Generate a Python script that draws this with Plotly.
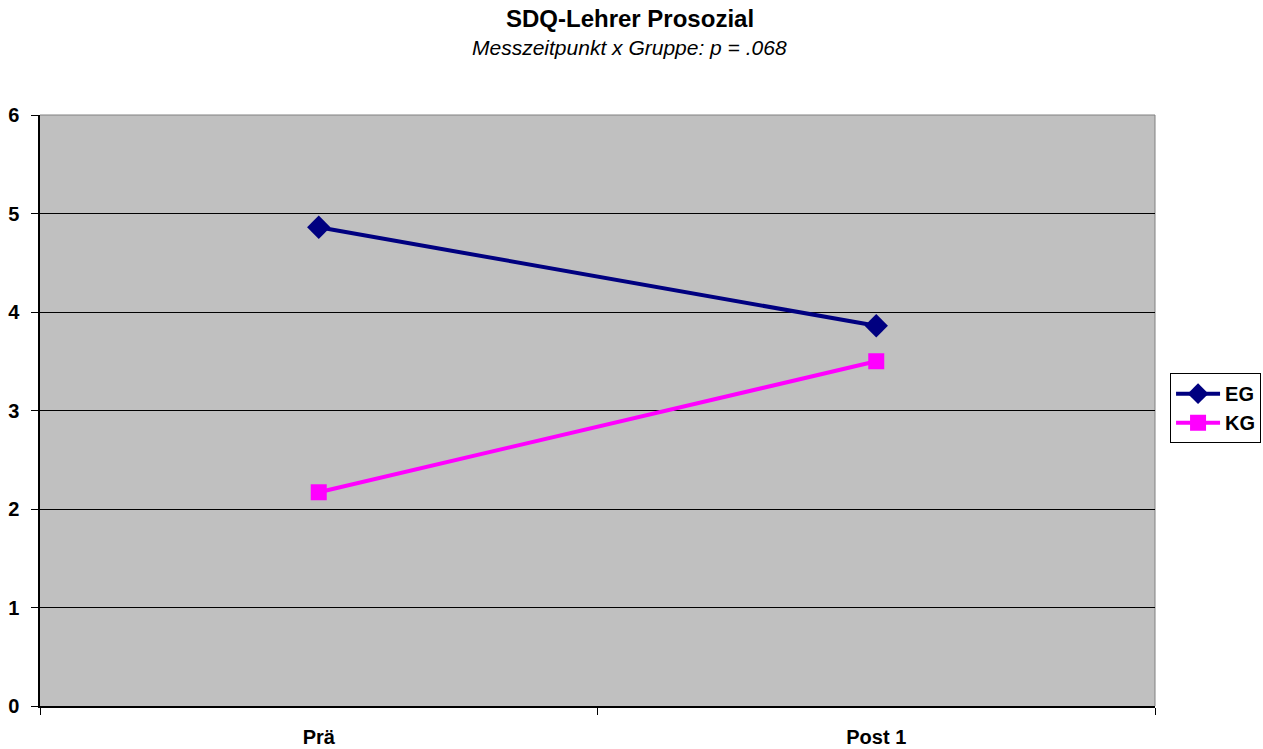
import plotly.graph_objects as go

# Messzeitpunkte und Gruppenmittelwerte
zeitpunkte = ["Prä", "Post 1"]
eg_werte = [4.86, 3.86]
kg_werte = [2.17, 3.50]

y_ticks = [0, 1, 2, 3, 4, 5, 6]

titel = "SDQ-Lehrer Prosozial"
untertitel = "Messzeitpunkt x Gruppe: p = .068"

font_family = "Liberation Sans, Arial, sans-serif"

fig = go.Figure()

fig.add_trace(go.Scatter(
    x=zeitpunkte, y=eg_werte, name="EG", mode="lines+markers",
    line=dict(color="#000080", width=4),
    marker=dict(symbol="diamond", size=18, color="#000080"),
))
fig.add_trace(go.Scatter(
    x=zeitpunkte, y=kg_werte, name="KG", mode="lines+markers",
    line=dict(color="#FF00FF", width=4),
    marker=dict(symbol="square", size=16, color="#FF00FF"),
))

fig.add_annotation(
    text=f"<b>{titel}</b>", xref="paper", yref="paper",
    x=0.529, y=1.164, xanchor="center", yanchor="middle", showarrow=False,
    font=dict(size=24, family=font_family, color="black"),
)
fig.add_annotation(
    text=f"<i>{untertitel}</i>", xref="paper", yref="paper",
    x=0.529, y=1.115, xanchor="center", yanchor="middle", showarrow=False,
    font=dict(size=21, family=font_family, color="black"),
)

fig.update_layout(
    width=1263, height=749,
    margin=dict(l=40, r=108, t=115, b=43, autoexpand=False),
    paper_bgcolor="white",
    plot_bgcolor="#C0C0C0",
    font=dict(family=font_family, color="black"),
    legend=dict(
        x=1.0135, xanchor="left", y=0.504, yanchor="middle",
        bordercolor="black", borderwidth=1, bgcolor="white",
        font=dict(size=20, family=font_family, color="black", weight="bold"),
        itemwidth=44, tracegroupgap=2,
    ),
    xaxis=dict(
        type="category", range=[-0.5, 1.5], automargin=False,
        tickson="boundaries", ticks="outside", ticklen=7, tickcolor="black",
        showline=True, linecolor="black", linewidth=1.5,
        showgrid=False, zeroline=False, mirror=False,
        tickfont=dict(size=20, family=font_family, color="black", weight="bold"),
        ticklabelstandoff=12,
    ),
    yaxis=dict(
        range=[0, 6], tickvals=y_ticks, automargin=False,
        ticks="outside", ticklen=7, tickcolor="black",
        showline=True, linecolor="black", linewidth=1.5,
        showgrid=True, gridcolor="black", gridwidth=1,
        zeroline=False,
        tickfont=dict(size=20, family=font_family, color="black", weight="bold"),
        ticklabelstandoff=8,
    ),
)

# dünner grauer Rahmen oben und rechts
fig.add_shape(type="line", xref="paper", yref="paper", x0=0, x1=1, y0=1, y1=1,
              line=dict(color="#808080", width=1), layer="below")
fig.add_shape(type="line", xref="paper", yref="paper", x0=1, x1=1, y0=0, y1=1,
              line=dict(color="#808080", width=1), layer="below")

fig.write_html("out.html")
